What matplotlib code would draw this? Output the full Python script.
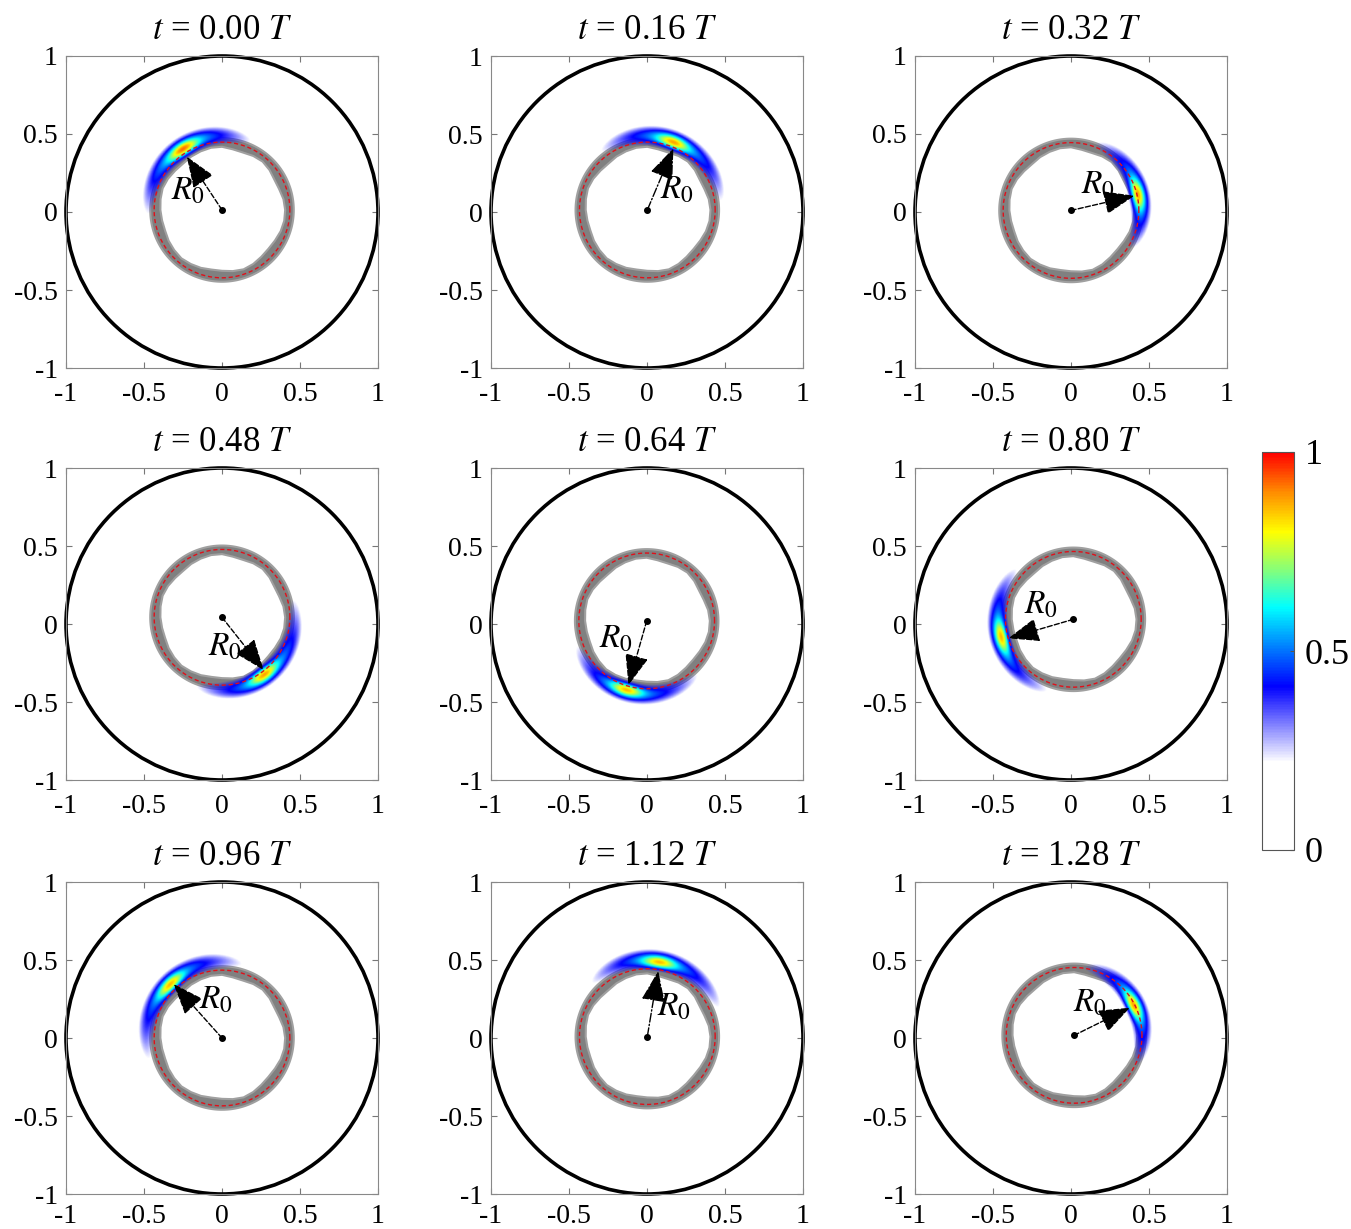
import numpy as np
import matplotlib
matplotlib.use("Agg")
import matplotlib.pyplot as plt
from matplotlib.colors import LinearSegmentedColormap, Normalize
from matplotlib.path import Path
from matplotlib.patches import PathPatch, Circle
from matplotlib.cm import ScalarMappable

plt.rcParams['font.family'] = ['Liberation Serif', 'DejaVu Serif']
plt.rcParams['mathtext.fontset'] = 'stix'

# time of each snapshot (fraction of period T)
times = [0.00, 0.16, 0.32, 0.48, 0.64, 0.80, 0.96, 1.12, 1.28]

# centre dot of each panel
centre_x = [0.0, 0.002, 0.0, 0.0, -0.002, 0.015, 0.0, 0.002, 0.02]
centre_y = [0.013, 0.013, 0.01, 0.043, 0.02, 0.03, 0.0, 0.009, 0.017]

# arrow tips (R0 arrow)
tip_x = [-0.226, 0.169, 0.406, 0.267, -0.119, -0.402, -0.31, 0.072, 0.377]
tip_y = [0.355, 0.408, 0.104, -0.295, -0.392, -0.092, 0.346, 0.43, 0.194]
arrow_style = ['--', '-.', '--', '--', '--', '--', '--', '-.', '--']

# R0 label positions
label_x = [-0.22, 0.19, 0.17, 0.02, -0.20, -0.19, -0.04, 0.17, 0.12]
label_y = [0.13, 0.14, 0.17, -0.15, -0.10, 0.12, 0.24, 0.20, 0.22]

# density blob: peak location, angular reach (deg) on each side, peak value
peak_x = [-0.248, 0.169, 0.425, 0.269, -0.13, -0.444, -0.329, 0.079, 0.40]
peak_y = [0.397, 0.444, 0.109, -0.321, -0.419, -0.081, 0.338, 0.483, 0.205]
reach_ccw = [49, 49, 47, 56, 50, 47, 52, 46, 46]
reach_cw = [45, 51, 38, 47, 45, 46, 50, 49, 44]
peak_val = [0.90, 0.86, 0.86, 0.86, 0.84, 0.84, 0.84, 0.84, 0.86]

# particle ring: inner edge radius every 10 deg, outer radius, reference radius
ring_inner = [0.405, 0.40, 0.39, 0.388, 0.398, 0.405, 0.40, 0.392, 0.395, 0.405,
              0.405, 0.40, 0.395, 0.388, 0.392, 0.40, 0.405, 0.40, 0.395, 0.39,
              0.388, 0.395, 0.40, 0.405, 0.40, 0.395, 0.388, 0.39, 0.398, 0.405,
              0.40, 0.392, 0.388, 0.392, 0.40, 0.405]
ring_outer = 0.46
R0 = 0.435

ticks = [-1, -0.5, 0, 0.5, 1]
tick_labels = ['-1', '-0.5', '0', '0.5', '1']

cmap = LinearSegmentedColormap.from_list('wjet', [
    (0.0, (1, 1, 1, 0)), (0.22, (0, 0, 1, 0)), (0.41, (0, 0, 1, 1)),
    (0.5, (0, 0.45, 1, 1)), (0.61, (0, 1, 1, 1)), (0.70, (0.5, 1, 0.5, 1)),
    (0.80, (1, 1, 0, 1)), (0.90, (1, 0.55, 0, 1)), (1.0, (1, 0, 0, 1))])

W, H = 1351, 1229
fig = plt.figure(figsize=(W / 100, H / 100), dpi=100)
lefts = [66, 491, 915]
tops = [56, 468, 882]
size = 312

g = np.linspace(-1, 1, 500)
X, Y = np.meshgrid(g, g)
phi = np.linspace(0, 2 * np.pi, 400)

for k, t in enumerate(times):
    r_i, c_i = divmod(k, 3)
    ax = fig.add_axes([lefts[c_i] / W, 1 - (tops[r_i] + size) / H, size / W, size / H])
    cx, cy = centre_x[k], centre_y[k]

    # outer wall
    ax.add_patch(Circle((0, 0), 1, fill=False, lw=2.6, color='k', clip_on=False, zorder=2))

    # particle ring (annulus)
    ang = np.deg2rad(np.arange(0, 360, 10))
    ri = np.array(ring_inner)
    inner = np.column_stack([cx + ri * np.cos(ang), cy + ri * np.sin(ang)])[::-1]
    outer = np.column_stack([cx + ring_outer * np.cos(phi), cy + ring_outer * np.sin(phi)])
    verts = np.vstack([outer, outer[:1], inner, inner[:1]])
    codes = ([Path.MOVETO] + [Path.LINETO] * (len(outer) - 1) + [Path.CLOSEPOLY]
             + [Path.MOVETO] + [Path.LINETO] * (len(inner) - 1) + [Path.CLOSEPOLY])
    ax.add_patch(PathPatch(Path(verts, codes), facecolor='#808080', edgecolor='#a0a0a0',
                           lw=1.5, zorder=2))

    # density blob
    th0 = np.arctan2(peak_y[k] - cy, peak_x[k] - cx)
    r0 = np.hypot(peak_x[k] - cx, peak_y[k] - cy)
    R = np.hypot(X - cx, Y - cy)
    dth = np.rad2deg(np.angle(np.exp(1j * (np.arctan2(Y - cy, X - cx) - th0))))
    sb = np.where(dth > 0, reach_ccw[k], reach_cw[k]) / 1.1
    core = np.exp(-0.5 * ((R - r0) / 0.028) ** 2 - 0.5 * (dth / 9.0) ** 2)
    broad = np.exp(-0.5 * ((R - r0 - 0.015) / 0.052) ** 2 - 0.5 * (dth / sb) ** 2)
    Z = peak_val[k] * (0.42 * core + 0.62 * broad)
    ax.imshow(Z, extent=[-1, 1, -1, 1], origin='lower', cmap=cmap, vmin=0, vmax=1,
              interpolation='bilinear', zorder=3)

    # reference circle
    ax.plot(cx + R0 * np.cos(phi), cy + R0 * np.sin(phi), '--', color='#e0101a',
            lw=1.0, dashes=(3, 2), zorder=4)

    # R0 arrow
    ax.annotate('', xy=(tip_x[k], tip_y[k]), xytext=(cx, cy), zorder=5,
                arrowprops=dict(arrowstyle='-|>,head_length=1.3,head_width=0.5',
                                mutation_scale=15, color='k', lw=1.0,
                                linestyle=arrow_style[k], shrinkA=0, shrinkB=0))
    ax.plot(cx, cy, 'o', color='k', ms=4, zorder=6)
    ax.text(label_x[k], label_y[k], r'$R_0$', fontsize=24, ha='center', va='center', zorder=6)

    ax.set_xlim(-1, 1)
    ax.set_ylim(-1, 1)
    ax.set_xticks(ticks)
    ax.set_yticks(ticks)
    ax.set_xticklabels(tick_labels)
    ax.set_yticklabels(tick_labels)
    ax.tick_params(direction='in', length=4, labelsize=20, color='#777777',
                   top=True, right=True)
    ax.tick_params(axis='x', pad=10 if r_i < 2 else 7)
    ax.tick_params(axis='y', pad=6)
    for s in ax.spines.values():
        s.set_color('#888888')
        s.set_linewidth(0.8)
    ax.set_title(r'$t$ = %.2f $T$' % t, fontsize=25, pad=12)

cax = fig.add_axes([1262 / W, 1 - 850 / H, 32 / W, 398 / H])
cb = fig.colorbar(ScalarMappable(norm=Normalize(0, 1), cmap=cmap), cax=cax)
cb.set_ticks([0, 0.5, 1])
cb.set_ticklabels(['0', '0.5', '1'])
cb.ax.tick_params(direction='in', length=3, labelsize=26, color='#555555', pad=8)
cb.outline.set_edgecolor('#555555')
cb.outline.set_linewidth(0.8)

fig.savefig('out.png', dpi=100)
